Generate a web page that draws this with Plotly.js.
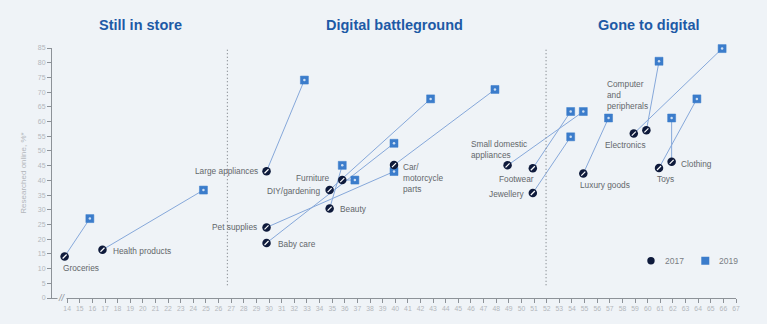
<!DOCTYPE html>
<html>
<head>
<meta charset="utf-8">
<script src="https://cdn.plot.ly/plotly-3.0.1.min.js"></script>
<style>html,body{margin:0;padding:0;background:#eff3f7;}#chart{width:767px;height:324px;}</style>
</head>
<body>
<div id="chart"></div>
<script>
// ---- data ----
const categories = ["Groceries","Health products","Large appliances","Pet supplies","Baby care","Furniture","DIY/gardening","Beauty","Car/<br>motorcycle<br>parts","Small domestic<br>appliances","Footwear","Jewellery","Luxury goods","Computer<br>and<br>peripherals","Electronics","Toys","Clothing"];
const x2017 = [13.8,16.8,29.8,29.8,29.8,35.8,34.8,34.8,39.9,48.9,50.9,50.9,54.9,59.9,58.9,60.9,61.9];
const y2017 = [14.1,16.4,43.1,24.0,18.7,40.1,36.7,30.4,45.2,45.1,44.1,35.7,42.3,57.0,55.9,44.2,46.3];
const x2019 = [15.8,24.8,32.8,39.9,39.9,36.8,42.8,35.8,47.9,54.9,53.9,53.9,56.9,60.9,65.9,63.9,61.9];
const y2019 = [27.0,36.7,74.1,43.0,52.6,40.1,67.7,45.1,70.9,63.4,63.4,54.8,61.2,80.5,84.8,67.7,61.2];
const xTicks = Array.from({length:54},(_,i)=>14+i);
const yTicks = Array.from({length:18},(_,i)=>i*5);
const sectionTitles = ["Still in store","Digital battleground","Gone to digital"];
const sectionBounds = [26.7, 51.95];
const seriesNames = ["2017","2019"];

// ---- styling (label placement relative to each 2017 marker, in px) ----
const labelStyle = [
  {a:"left",  dx:-4,   dy:-11},
  {a:"left",  dx:9,    dy:-1},
  {a:"right", dx:-7,   dy:0},
  {a:"right", dx:-8,   dy:0},
  {a:"left",  dx:9,    dy:-1.4},
  {a:"right", dx:-10,  dy:2},
  {a:"right", dx:-8,   dy:-0.7},
  {a:"left",  dx:8.5,  dy:0},
  {a:"left",  dx:7,    dy:-12.7},
  {a:"left",  dx:-39,  dy:15.7},
  {a:"right", dx:3,    dy:-10.3},
  {a:"right", dx:-6.5, dy:-0.7},
  {a:"left",  dx:-5,   dy:-11},
  {a:"left",  dx:-41,  dy:35},
  {a:"left",  dx:-31,  dy:-11},
  {a:"left",  dx:-4,   dy:-10.7},
  {a:"left",  dx:7,    dy:-1.7}
];
const C17 = "#0e1a3b", C19 = "#3b7ccb", LINE = "#86a8da", BG = "#eff3f7";
const TXT = "#63676b", TICK = "#b3b7bc", AX = "#8d9298";
const FONT = "Liberation Sans, Arial, sans-serif";

// connector lines built from the data arrays
const lx = [], ly = [];
x2017.forEach((v,i)=>{ lx.push(v, x2019[i], null); ly.push(y2017[i], y2019[i], null); });

const traces = [
  {x:lx, y:ly, mode:"lines", line:{color:LINE, width:1}, hoverinfo:"skip", showlegend:false, cliponaxis:false},
  {x:x2019, y:y2019, mode:"markers", name:seriesNames[1], text:categories, showlegend:false, cliponaxis:false,
   marker:{symbol:"square", size:8, color:C19, line:{color:C19, width:0.5}}},
  {x:x2019, y:y2019, mode:"markers", hoverinfo:"skip", showlegend:false, cliponaxis:false,
   marker:{symbol:"circle", size:2.5, color:"rgba(255,255,255,0.75)"}},
  {x:x2017, y:y2017, mode:"markers", name:seriesNames[0], text:categories, showlegend:false, cliponaxis:false,
   marker:{symbol:"circle", size:8.5, color:C17}},
  {x:x2017, y:y2017, mode:"markers", hoverinfo:"skip", showlegend:false, cliponaxis:false,
   marker:{symbol:"line-ne", size:4, color:"#ffffff", line:{color:"#ffffff", width:1.2}}}
];

const annotations = categories.map((c,i)=>({
  x:x2017[i], y:y2017[i], xref:"x", yref:"y", text:c, showarrow:false,
  xanchor:labelStyle[i].a, yanchor:"middle", align:"left",
  xshift:labelStyle[i].dx, yshift:labelStyle[i].dy,
  font:{family:FONT, size:8.3, color:TXT}
}));
const titleX = [0.129, 0.501, 0.873];
sectionTitles.forEach((t,i)=>annotations.push({
  x:titleX[i], y:1.092, xref:"paper", yref:"paper", text:"<b>"+t+"</b>", showarrow:false,
  xanchor:"center", yanchor:"middle", font:{family:FONT, size:14.5, color:"#1d5aa6"}
}));
// axis break mark
annotations.push({x:13.62, y:0, xref:"x", yref:"y", text:"<i>//</i>", showarrow:false,
  xanchor:"center", yanchor:"middle", bgcolor:BG, borderpad:0,
  font:{family:FONT, size:9, color:AX}});
// legend text
annotations.push({x:0.8937, y:0.149, xref:"paper", yref:"paper", text:seriesNames[0], showarrow:false,
  xanchor:"left", yanchor:"middle", font:{family:FONT, size:8.5, color:"#7a7e83"}});
annotations.push({x:0.9727, y:0.149, xref:"paper", yref:"paper", text:seriesNames[1], showarrow:false,
  xanchor:"left", yanchor:"middle", font:{family:FONT, size:8.5, color:"#7a7e83"}});

const shapes = sectionBounds.map(b=>({
  type:"line", xref:"x", yref:"y", x0:b, x1:b, y0:4.3, y1:85.5,
  line:{color:"#80858b", width:1.2, dash:"1px,2.5px"}
}));
// legend symbols
shapes.push({type:"circle", xref:"paper", yref:"paper", xsizemode:"pixel", ysizemode:"pixel",
  xanchor:0.8757, yanchor:0.149, x0:-3.7, x1:3.7, y0:-3.7, y1:3.7, fillcolor:C17, line:{width:0}});
shapes.push({type:"rect", xref:"paper", yref:"paper", xsizemode:"pixel", ysizemode:"pixel",
  xanchor:0.9551, yanchor:0.149, x0:-4, x1:4, y0:-4, y1:4, fillcolor:C19, line:{width:0}});

const layout = {
  width:767, height:324,
  margin:{l:52, r:31, t:48, b:25.7, pad:0},
  paper_bgcolor:BG, plot_bgcolor:BG,
  font:{family:FONT},
  showlegend:false,
  xaxis:{range:[12.8,67], tickvals:xTicks, ticktext:xTicks.map(String), showgrid:false, zeroline:false,
    showline:true, linecolor:AX, linewidth:1, ticks:"outside", ticklen:4, tickcolor:AX, tickwidth:1,
    tickfont:{family:FONT, size:6.8, color:TICK}, tickangle:0, fixedrange:true},
  yaxis:{range:[0,85], tickvals:yTicks, showgrid:false, zeroline:false,
    showline:true, linecolor:AX, linewidth:1, ticks:"outside", ticklen:4, tickcolor:AX, tickwidth:1,
    tickfont:{family:FONT, size:7, color:TICK}, fixedrange:true,
    title:{text:"Researched online, %*", font:{family:FONT, size:8, color:TICK}, standoff:10}},
  annotations:annotations, shapes:shapes
};
Plotly.newPlot("chart", traces, layout, {displayModeBar:false, staticPlot:true});
</script>
</body>
</html>
